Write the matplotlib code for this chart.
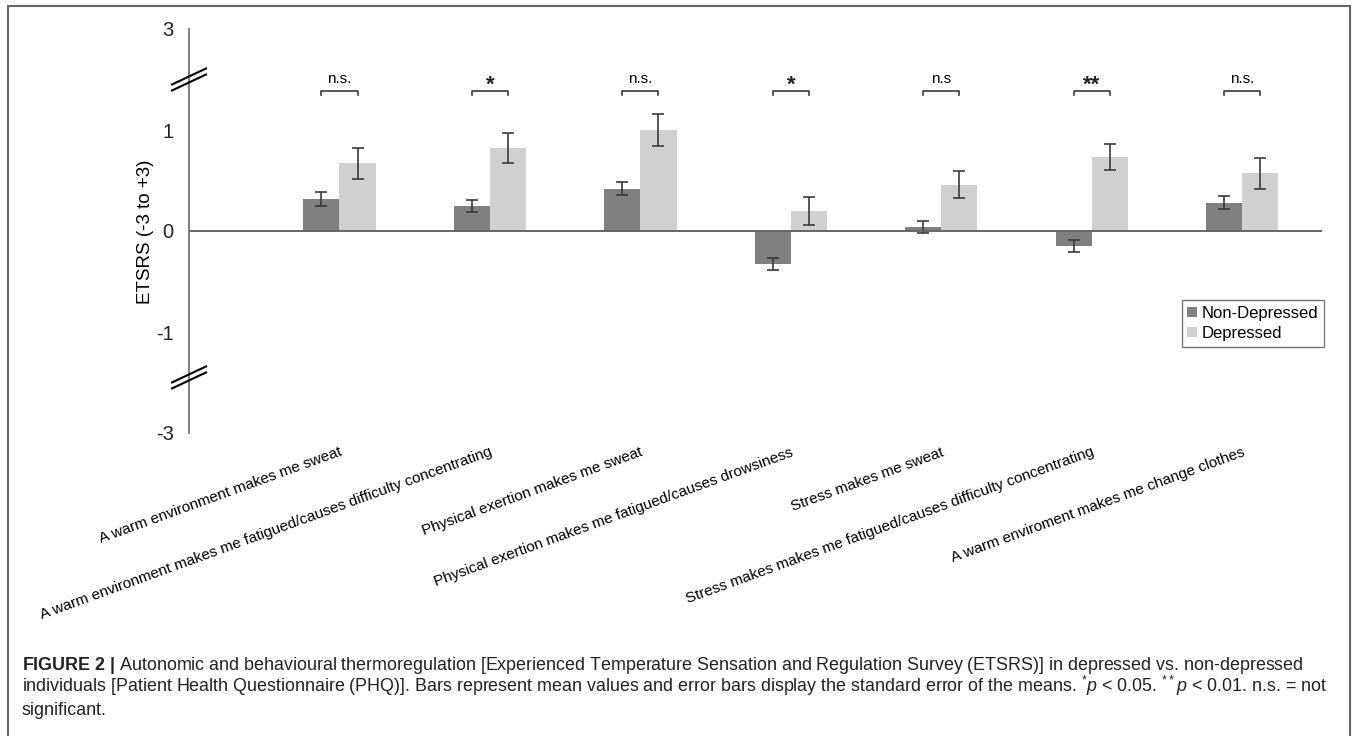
import numpy as np
import matplotlib
matplotlib.use("Agg")
import matplotlib.pyplot as plt
from matplotlib.patches import Rectangle
from matplotlib.lines import Line2D

plt.rcParams['font.family'] = ['Liberation Sans', 'DejaVu Sans']
plt.rcParams['mathtext.fontset'] = 'custom'
plt.rcParams['mathtext.rm'] = 'Liberation Sans'
plt.rcParams['mathtext.it'] = 'Liberation Sans:italic'
plt.rcParams['mathtext.bf'] = 'Liberation Sans:bold'

# data
categories = ["A warm environment makes me sweat",
              "A warm environment makes me fatigued/causes difficulty concentrating",
              "Physical exertion makes me sweat",
              "Physical exertion makes me fatigued/causes drowsiness",
              "Stress makes me sweat",
              "Stress makes makes me fatigued/causes difficulty concentrating",
              "A warm enviroment makes me change clothes"]
non_dep = [0.32, 0.25, 0.42, -0.33, 0.04, -0.15, 0.28]
non_dep_se = [0.068, 0.061, 0.067, 0.058, 0.058, 0.056, 0.064]
dep = [0.67, 0.82, 1.00, 0.20, 0.46, 0.73, 0.57]
dep_se = [0.155, 0.147, 0.163, 0.139, 0.134, 0.130, 0.157]
sig = ["n.s.", "*", "n.s.", "*", "n.s", "**", "n.s."]
# broken axis: display positions -> shown labels
ytick_pos = [-2, -1, 0, 1, 2]
ytick_lab = ["-3", "-1", "0", "1", "3"]

W, H = 1357, 736
fig = plt.figure(figsize=(W / 100, H / 100), dpi=100)

def fx(px): return px / W
def fy(py): return 1 - py / H

ax = fig.add_axes([fx(189), fy(433), fx(1322) - fx(189), fy(29) - fy(433)])
x = np.arange(1, len(categories) + 1)
w = 0.24
ekw = dict(ecolor="#3a3a3a", elinewidth=1.2, capsize=4, capthick=1.2)
ax.bar(x - w / 2, non_dep, w, color="#808080", yerr=non_dep_se,
       error_kw=ekw, label="Non-Depressed", zorder=2)
ax.bar(x + w / 2, dep, w, color="#d0d0d0", yerr=dep_se,
       error_kw=ekw, label="Depressed", zorder=2)
ax.axhline(0, color="#666666", lw=1.4, zorder=3)

ax.set_xlim(0, 7.53)
ax.set_ylim(-2, 2)
for s in ["top", "right", "bottom"]:
    ax.spines[s].set_visible(False)
ax.spines["left"].set_color("#808080")
ax.spines["left"].set_linewidth(1.4)
ax.set_xticks([])
ax.set_yticks(ytick_pos, ytick_lab, fontsize=14.5, color="#222222")
ax.tick_params(axis="y", length=0, pad=11)

# significance brackets
for xi, s in zip(x, sig):
    ax.plot([xi - w / 2, xi - w / 2, xi + w / 2, xi + w / 2],
            [1.345, 1.39, 1.39, 1.345], color="#3a3a3a", lw=1.2,
            clip_on=False)
    if "*" in s:
        ax.text(xi, 1.385, s, ha="center", va="baseline", fontsize=16,
                fontweight="bold", color="#222222")
    else:
        ax.text(xi, 1.465, s, ha="center", va="baseline", fontsize=11)

# category labels
for xi, lab in zip(x, categories):
    ax.text(xi - 0.005, -0.03, lab, transform=ax.get_xaxis_transform(),
            rotation=20, rotation_mode="anchor", ha="right", va="top",
            fontsize=11)

# break marks on the y axis
for yb in [1.5, -1.45]:
    cx, cy = ax.transData.transform((0, yb))
    for off in [3, -3]:
        fig.add_artist(Line2D([cx - 17, cx + 17], [cy - 8 + off, cy + 8 + off],
                              color="black", lw=1.5, transform=None))

fig.text(fx(146), fy(232), "ETSRS (-3 to +3)", rotation=90, ha="center",
         va="center", fontsize=13.5)

ax.legend(loc="upper right", bbox_to_anchor=(fx(1324), fy(300)),
          bbox_transform=fig.transFigure, borderaxespad=0, fontsize=12,
          frameon=True, fancybox=False, edgecolor="#555555",
          handlelength=0.55, handleheight=0.55, handletextpad=0.3,
          borderpad=0.35, labelspacing=0.3)

# outer frame and caption
fig.add_artist(Rectangle((fx(8), -0.02), fx(1350) - fx(8), fy(6) + 0.02,
                         transform=fig.transFigure, fill=False,
                         edgecolor="#666666", lw=1.5))
cap = [r"$\mathbf{FIGURE\ 2\ |}$ Autonomic and behavioural thermoregulation "
       r"[Experienced Temperature Sensation and Regulation Survey (ETSRS)] "
       r"in depressed vs. non-depressed",
       r"individuals [Patient Health Questionnaire (PHQ)]. Bars represent mean "
       r"values and error bars display the standard error of the means. "
       r"${}^{*}p$ < 0.05. ${}^{**}p$ < 0.01. n.s. = not",
       "significant."]
for i, line in enumerate(cap):
    fig.text(fx(22), fy(670 + 22.5 * i), line, ha="left", va="baseline",
             fontsize=12.9, color="#222222")

fig.savefig("out.png", dpi=100)
